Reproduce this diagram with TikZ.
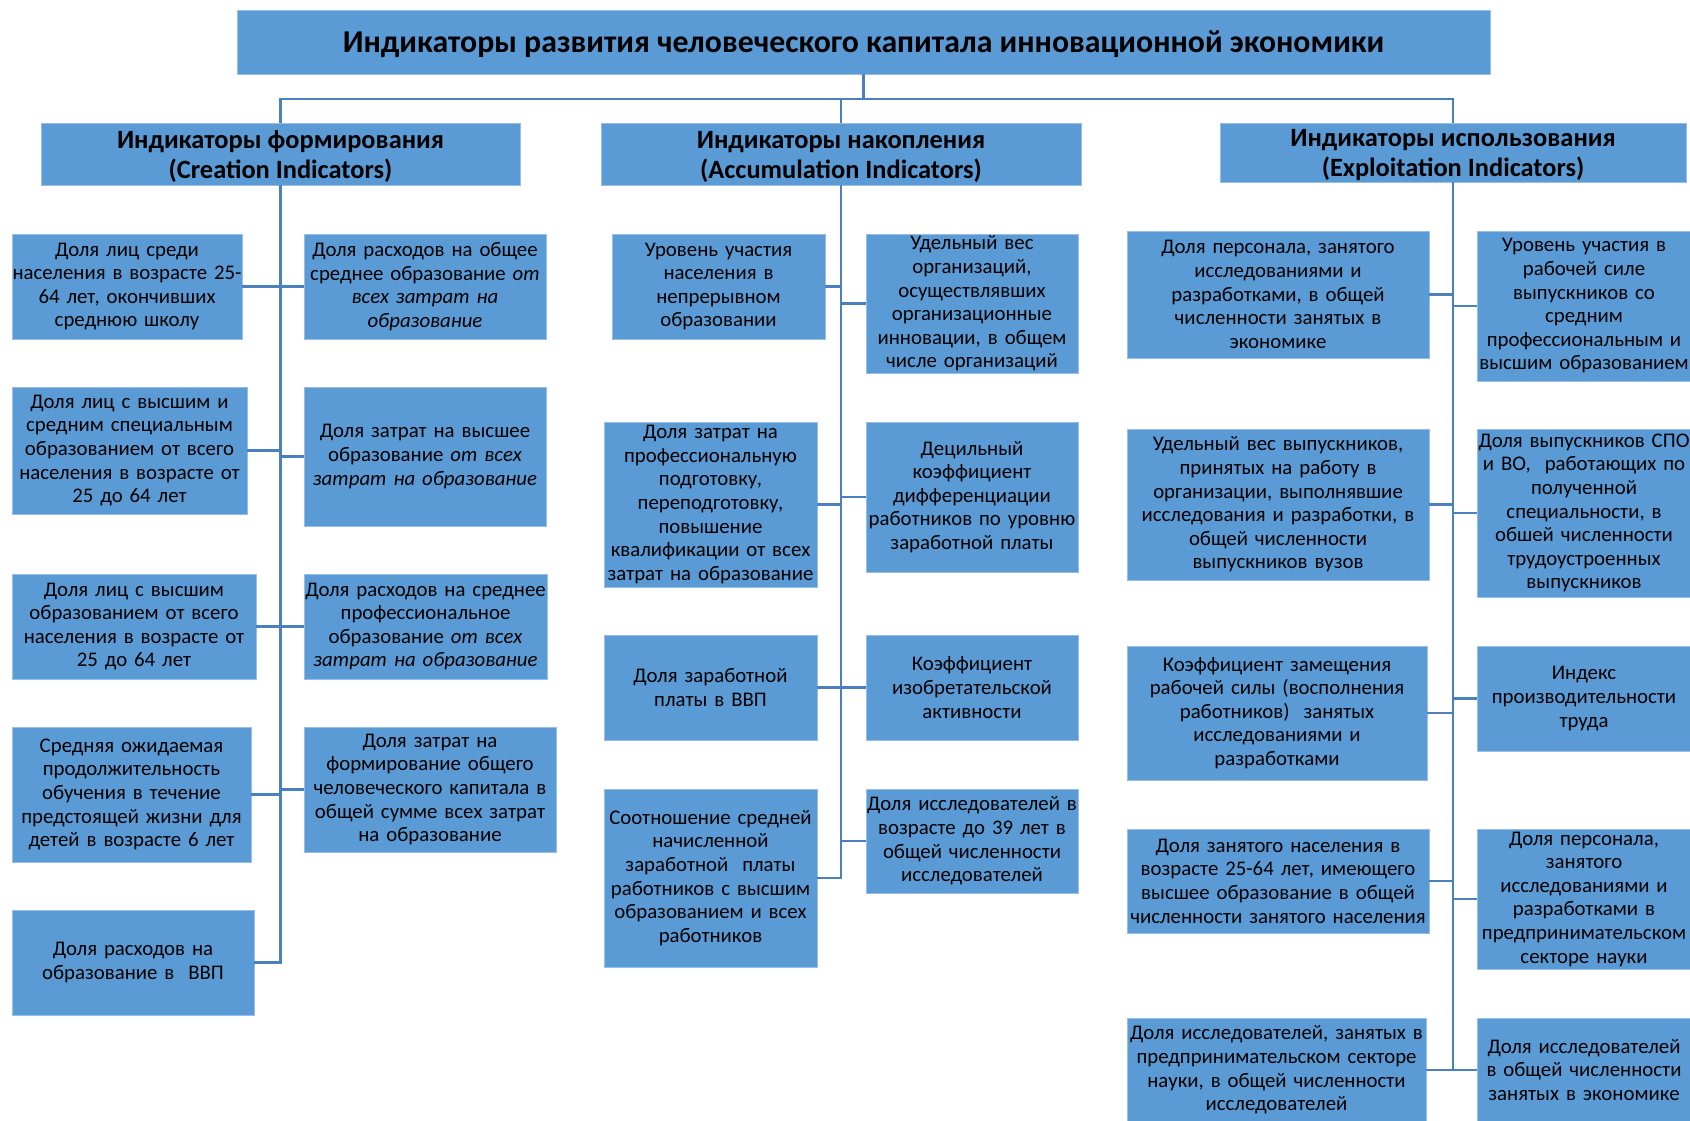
\documentclass[tikz,border=0pt]{standalone}
\usepackage{fontspec}
\setmainfont{Carlito}
\definecolor{boxblue}{RGB}{91,155,213}
\definecolor{boxedge}{RGB}{150,190,230}
\definecolor{linkblue}{RGB}{74,128,190}
\newcommand{\bodyfont}{\fontsize{20.8}{23.6}\selectfont}
\newcommand{\headfont}{\fontsize{26.4}{30}\selectfont\bfseries}
\newcommand{\titlefont}{\fontsize{31.8}{36}\selectfont\bfseries}
\tikzset{
  box/.style={rectangle, fill=boxblue, draw=boxedge, line width=0.8pt,
    align=center, inner xsep=0pt, inner ysep=0pt, text=black, font=\bodyfont},
  % heading text, set a little below the centre of its box
  headtext/.style={align=center, inner sep=0pt, text=black, yshift=-2.5pt},
  link/.style={draw=linkblue, line width=2.8pt, line join=miter},
}
% \ibox[style]{name}{x1}{y1}{x2}{y2}{text}: box given by its corners
\newcommand{\ibox}[7][box]{%
  \pgfmathsetmacro\ibW{#5-#3}\pgfmathsetmacro\ibH{#6-#4}%
  \pgfmathsetmacro\ibX{(#3+#5)/2}\pgfmathsetmacro\ibY{(#4+#6)/2}%
  \node[#1, text width=\ibW pt, minimum height=\ibH pt] (#2) at (\ibX,\ibY) {#7};}
\begin{document}
\begin{tikzpicture}[x=1pt,y=-1pt]
\useasboundingbox (0,0) rectangle (1690,1121);
\fill[white] (0,0) rectangle (1690,1121);

% title and column headers
\ibox{title}{237}{10}{1490}{74}{}
\node[headtext, font=\titlefont] (titletext) at (title) {Индикаторы развития человеческого капитала инновационной экономики};
\ibox{hc}{41}{123}{520}{185}{}
\node[headtext, font=\headfont] (hctext) at (hc) {Индикаторы формирования\\(Creation Indicators)};
\ibox{ha}{601}{123}{1081}{185}{}
\node[headtext, font=\headfont] (hatext) at (ha) {Индикаторы накопления\\(Accumulation Indicators)};
\ibox{he}{1220}{123}{1686}{182}{}
\node[headtext, font=\headfont] (hetext) at (he) {Индикаторы использования\\(Exploitation Indicators)};

% creation indicators
\ibox{c1}{12}{234}{242}{339}{Доля лиц среди\\населения в возрасте 25-\\64 лет, окончивших\\среднюю школу}
\ibox{c2}{12}{387}{247}{514}{Доля лиц с высшим и\\средним специальным\\образованием от всего\\населения в возрасте от\\25 до 64 лет}
\ibox{c3}{12}{574}{256}{679}{Доля лиц с высшим\\образованием от всего\\населения в возрасте от\\25 до 64 лет}
\ibox{c4}{12}{727}{251}{862}{Средняя ожидаемая\\продолжительность\\обучения в течение\\предстоящей жизни для\\детей в возрасте 6 лет}
\ibox{c5}{12}{910}{254}{1015}{Доля расходов на\\образование в~~ВВП}
\ibox{d1}{304}{234}{546}{339}{Доля расходов на общее\\среднее образование \textit{от}\\\textit{всех затрат на}\\\textit{образование}}
\ibox{d2}{304}{387}{546}{526}{Доля затрат на высшее\\образование \textit{от всех}\\\textit{затрат на образование}}
\ibox{d3}{304}{574}{547}{679}{Доля расходов на среднее\\профессиональное\\образование \textit{от всех}\\\textit{затрат на образование}}
\ibox{d4}{304}{727}{556}{852}{Доля затрат на\\формирование общего\\человеческого капитала в\\общей сумме всех затрат\\на образование}

% accumulation indicators
\ibox{a1}{612}{234}{825}{339}{Уровень участия\\населения в\\непрерывном\\образовании}
\ibox{a2}{604}{422}{817}{587}{Доля затрат на\\профессиональную\\подготовку,\\переподготовку,\\повышение\\квалификации от всех\\затрат на образование}
\ibox{a3}{604}{635}{817}{740}{Доля заработной\\платы в ВВП}
\ibox{a4}{604}{789}{817}{967}{Соотношение средней\\начисленной\\заработной~~платы\\работников с высшим\\образованием и всех\\работников}
\ibox{b1}{866}{234}{1078}{373}{Удельный вес\\организаций,\\осуществлявших\\организационные\\инновации, в общем\\числе организаций}
\ibox{b2}{866}{422}{1078}{572}{Децильный\\коэффициент\\дифференциации\\работников по уровню\\заработной платы}
\ibox{b3}{866}{635}{1078}{740}{Коэффициент\\изобретательской\\активности}
\ibox{b4}{866}{789}{1078}{893}{Доля исследователей в\\возрасте до 39 лет в\\общей численности\\исследователей}

% exploitation indicators
\ibox{e1}{1127}{231}{1429}{358}{Доля персонала, занятого\\исследованиями и\\разработками, в общей\\численности занятых в\\экономике}
\ibox{e2}{1127}{429}{1429}{580}{Удельный вес выпускников,\\принятых на работу в\\организации, выполнявшие\\исследования и разработки, в\\общей численности\\выпускников вузов}
\ibox{e3}{1127}{646}{1427}{780}{Коэффициент замещения\\рабочей силы (восполнения\\работников)~~занятых\\исследованиями и\\разработками}
\ibox{e4}{1127}{829}{1429}{933}{Доля занятого населения в\\возрасте 25-64 лет, имеющего\\высшее образование в общей\\численности занятого населения}
\ibox{e5}{1127}{1018}{1426}{1122}{Доля исследователей, занятых в\\предпринимательском секторе\\науки, в общей численности\\исследователей}
\ibox{f1}{1477}{231}{1691}{381}{Уровень участия в\\рабочей силе\\выпускников со\\средним\\профессиональным и\\высшим образованием}
\ibox{f2}{1477}{429}{1691}{597}{Доля выпускников СПО\\и ВО,~~работающих по\\полученной\\специальности, в\\обшей численности\\трудоустроенных\\выпускников}
\ibox{f3}{1477}{646}{1691}{751}{Индекс\\производительности\\труда}
\ibox{f4}{1477}{829}{1691}{969}{Доля персонала,\\занятого\\исследованиями и\\разработками в\\предпринимательском\\секторе науки}
\ibox{f5}{1477}{1018}{1691}{1122}{Доля исследователей\\в общей численности\\занятых в экономике}

% top bus
\coordinate (bus) at (0,99);
\draw[link] (title.south) -- (title.south |- bus);
\draw[link] (hc.north) |- (he.north |- bus) -- (he.north);
\draw[link] (ha.north) -- (ha.north |- bus);

% spines with their last branch
\draw[link] (hc.south) -- (hc.south |- c5.east) -- (c5.east);
\draw[link] (ha.south) -- (ha.south |- a4.east) -- (a4.east);
\draw[link] (he.south) -- (he.south |- e5.east) -- (e5.east);

% branches
\foreach \n in {c1,c2,c3,c4} \draw[link] (\n.east) -- (\n.east -| hc.south);
\foreach \n in {d1,d2,d3,d4} \draw[link] (\n.west) -- (\n.west -| hc.south);
\foreach \n in {a1,a2,a3} \draw[link] (\n.east) -- (\n.east -| ha.south);
\foreach \n in {b1,b2,b3,b4} \draw[link] (\n.west) -- (\n.west -| ha.south);
\foreach \n in {e1,e2,e3,e4} \draw[link] (\n.east) -- (\n.east -| he.south);
\foreach \n in {f1,f2,f3,f4,f5} \draw[link] (\n.west) -- (\n.west -| he.south);
\end{tikzpicture}
\end{document}
